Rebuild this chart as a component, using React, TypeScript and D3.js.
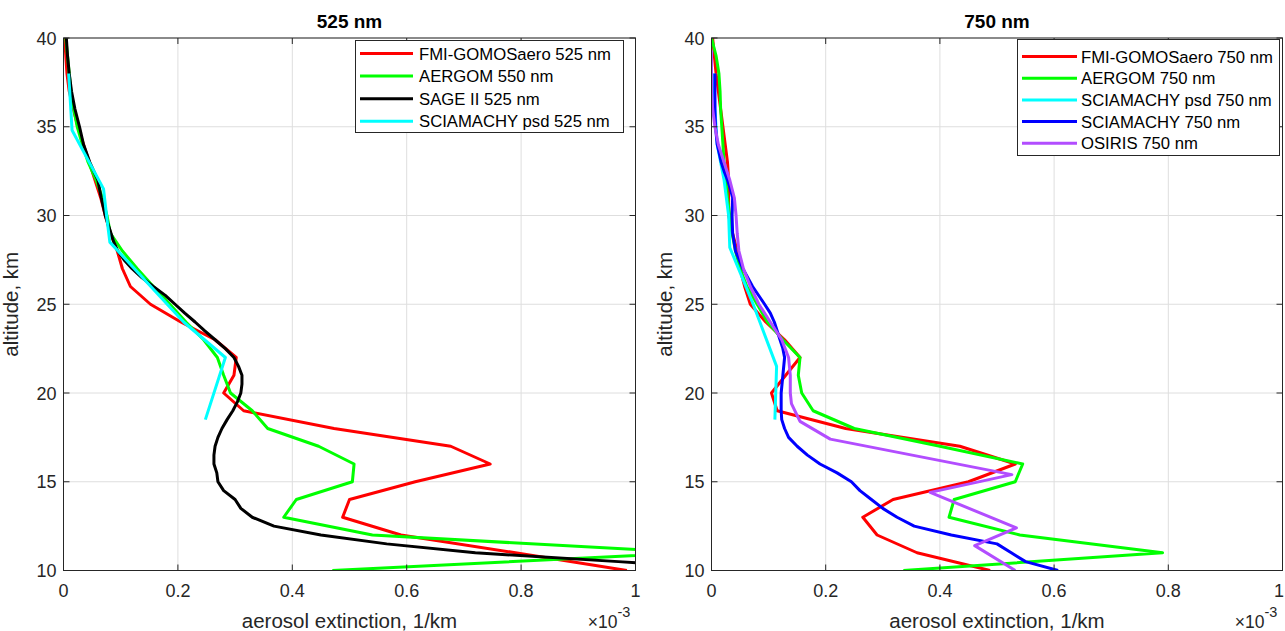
import React from 'react';
import * as d3 from 'd3';

// ---------- DATA (extinction in units of 1e-3 1/km, altitude in km) ----------
const xTicks = [0, 0.2, 0.4, 0.6, 0.8, 1];
const xTickLabels = ['0', '0.2', '0.4', '0.6', '0.8', '1'];
const yTicks = [10, 15, 20, 25, 30, 35, 40];

// Left panel: 525 nm
const fmi525Alt = [10, 11, 12, 13, 14, 15, 16, 17, 18, 19, 20, 21, 22, 23, 24, 25, 26, 27, 28, 29, 30, 31, 32, 33, 34, 35, 36, 37, 38, 39, 40];
const fmi525Ext = [0.985, 0.79, 0.59, 0.488, 0.5, 0.615, 0.746, 0.677, 0.473, 0.315, 0.28, 0.298, 0.302, 0.265, 0.205, 0.152, 0.117, 0.103, 0.094, 0.082, 0.073, 0.065, 0.055, 0.045, 0.035, 0.025, 0.017, 0.01, 0.006, 0.004, 0.002];

const aergom550Alt = [10, 11, 12, 13, 14, 15, 16, 17, 18, 19, 20, 21, 22, 23, 24, 25, 26, 27, 28, 29, 30, 31, 32, 33, 34, 35, 36, 37, 38, 39, 40];
const aergom550Ext = [0.47, 1.1, 0.54, 0.385, 0.407, 0.505, 0.508, 0.446, 0.357, 0.33, 0.292, 0.28, 0.269, 0.245, 0.214, 0.186, 0.157, 0.129, 0.103, 0.082, 0.076, 0.068, 0.057, 0.043, 0.033, 0.024, 0.018, 0.013, 0.01, 0.007, 0.004];

const sage525Alt = [10, 10.5, 11, 11.5, 12, 12.5, 13, 13.5, 14, 14.5, 15, 15.5, 16, 16.5, 17, 17.5, 18, 18.5, 19, 19.5, 20, 20.5, 21, 21.5, 22, 22.5, 23, 23.5, 24, 24.5, 25, 25.5, 26, 26.5, 27, 27.5, 28, 28.5, 29, 29.5, 30, 31, 32, 33, 34, 35, 36, 37, 38, 39, 40];
const sage525Ext = [1.2, 0.97, 0.72, 0.565, 0.45, 0.368, 0.33, 0.31, 0.3, 0.28, 0.27, 0.268, 0.263, 0.263, 0.265, 0.27, 0.277, 0.286, 0.296, 0.304, 0.31, 0.312, 0.312, 0.306, 0.298, 0.283, 0.265, 0.247, 0.23, 0.212, 0.195, 0.178, 0.157, 0.137, 0.12, 0.106, 0.095, 0.088, 0.083, 0.078, 0.073, 0.066, 0.06, 0.046, 0.035, 0.028, 0.02, 0.014, 0.01, 0.007, 0.005];

const sciaPsd525Alt = [18.5, 22, 24, 28.5, 29.8, 31.5, 34.8, 38];
const sciaPsd525Ext = [0.248, 0.283, 0.21, 0.081, 0.076, 0.07, 0.015, 0.009];

// Right panel: 750 nm
const fmi750Alt = [10, 11, 12, 13, 14, 15, 16, 17, 18, 19, 20, 21, 22, 23, 24, 25, 26, 27, 28, 29, 30, 31, 32, 33, 34, 35, 36, 37, 38, 39, 40];
const fmi750Ext = [0.488, 0.36, 0.29, 0.265, 0.318, 0.45, 0.532, 0.435, 0.235, 0.115, 0.105, 0.13, 0.155, 0.128, 0.095, 0.068, 0.058, 0.05, 0.045, 0.037, 0.03, 0.03, 0.03, 0.028, 0.024, 0.02, 0.016, 0.012, 0.008, 0.005, 0.002];

const aergom750Alt = [10, 11, 12, 13, 14, 15, 16, 17, 18, 19, 20, 21, 22, 23, 24, 25, 26, 27, 28, 29, 30, 31, 32, 33, 34, 35, 36, 37, 38, 39, 40];
const aergom750Ext = [0.336, 0.79, 0.54, 0.416, 0.425, 0.532, 0.545, 0.4, 0.25, 0.178, 0.158, 0.152, 0.155, 0.125, 0.098, 0.08, 0.062, 0.05, 0.042, 0.036, 0.032, 0.028, 0.025, 0.022, 0.02, 0.018, 0.016, 0.015, 0.013, 0.008, 0.0];

const sciaPsd750Alt = [18.5, 21.5, 25, 28.2, 30, 32, 34, 36, 38];
const sciaPsd750Ext = [0.111, 0.114, 0.073, 0.032, 0.03, 0.022, 0.01, 0.006, 0.004];

const scia750Alt = [10, 10.5, 11, 11.5, 12, 12.5, 13, 13.5, 14, 14.5, 15, 15.5, 16, 16.5, 17, 17.5, 18, 18.5, 19, 20, 21, 22, 22.5, 23, 24, 24.5, 25, 26, 27, 28, 29, 30, 31, 31.5, 32, 32.5, 33, 34, 35, 36, 37, 38];
const scia750Ext = [0.607, 0.55, 0.525, 0.5, 0.42, 0.355, 0.325, 0.3, 0.28, 0.26, 0.245, 0.22, 0.19, 0.168, 0.15, 0.135, 0.128, 0.123, 0.122, 0.122, 0.125, 0.128, 0.125, 0.12, 0.11, 0.103, 0.093, 0.072, 0.055, 0.042, 0.037, 0.036, 0.037, 0.033, 0.028, 0.022, 0.017, 0.01, 0.007, 0.006, 0.006, 0.006];

const osiris750Alt = [10, 11.4, 12.4, 14.4, 15.4, 17.4, 18.4, 19.4, 20, 21, 22, 23, 24, 25, 26, 27, 28, 29, 30, 31, 32, 33, 34, 35, 36, 37, 38, 39.3];
const osiris750Ext = [0.532, 0.461, 0.534, 0.383, 0.526, 0.208, 0.155, 0.14, 0.138, 0.138, 0.135, 0.123, 0.103, 0.083, 0.068, 0.056, 0.048, 0.045, 0.043, 0.04, 0.032, 0.022, 0.012, 0.006, 0.002, 0.0, 0.0, 0.0];

const leftTitle = '525 nm';
const rightTitle = '750 nm';
const xLabel = 'aerosol extinction, 1/km';
const yLabel = 'altitude, km';

const leftSeries = [
  { name: 'FMI-GOMOSaero 525 nm', color: '#ff0000', alt: fmi525Alt, ext: fmi525Ext },
  { name: 'AERGOM 550 nm', color: '#00ff00', alt: aergom550Alt, ext: aergom550Ext },
  { name: 'SAGE II 525 nm', color: '#000000', alt: sage525Alt, ext: sage525Ext },
  { name: 'SCIAMACHY psd 525 nm', color: '#00ffff', alt: sciaPsd525Alt, ext: sciaPsd525Ext },
];
const rightSeries = [
  { name: 'FMI-GOMOSaero 750 nm', color: '#ff0000', alt: fmi750Alt, ext: fmi750Ext },
  { name: 'AERGOM 750 nm', color: '#00ff00', alt: aergom750Alt, ext: aergom750Ext },
  { name: 'SCIAMACHY psd 750 nm', color: '#00ffff', alt: sciaPsd750Alt, ext: sciaPsd750Ext },
  { name: 'SCIAMACHY 750 nm', color: '#0000ff', alt: scia750Alt, ext: scia750Ext },
  { name: 'OSIRIS 750 nm', color: '#b24dff', alt: osiris750Alt, ext: osiris750Ext },
];

const FONT = "'Liberation Sans', Arial, Helvetica, sans-serif";
const AX = '#262626';

type Series = { name: string; color: string; alt: number[]; ext: number[] };

function Panel(props: {
  id: string; x0: number; x1: number; y0: number; y1: number; title: string;
  series: Series[]; legend: { x: number; y: number; w: number; h: number; lx0: number; lx1: number; tx: number; rowY: number; dy: number };
  yLabelX: number;
}) {
  const { id, x0, x1, y0, y1, title, series, legend, yLabelX } = props;
  const xs = d3.scaleLinear().domain([0, 1]).range([x0, x1]);
  const ys = d3.scaleLinear().domain([10, 40]).range([y1, y0]);
  const tk = 6;
  return (
    <g>
      <defs>
        <clipPath id={id}>
          <rect x={x0} y={y0} width={x1 - x0} height={y1 - y0} />
        </clipPath>
      </defs>
      <rect x={x0} y={y0} width={x1 - x0} height={y1 - y0} fill="#fff" />
      {/* grid */}
      {xTicks.map((t) => (
        <line key={'gx' + t} x1={xs(t)} x2={xs(t)} y1={y0} y2={y1} stroke="#dedede" strokeWidth={1} />
      ))}
      {yTicks.map((t) => (
        <line key={'gy' + t} x1={x0} x2={x1} y1={ys(t)} y2={ys(t)} stroke="#dedede" strokeWidth={1} />
      ))}
      {/* data */}
      <g clipPath={`url(#${id})`}>
        {series.map((s) => {
          const pts = s.alt.map((a, i) => [s.ext[i], a] as [number, number]);
          const path = d3.line<[number, number]>().x((d) => xs(d[0])).y((d) => ys(d[1]))(pts) || '';
          return <path key={s.name} d={path} fill="none" stroke={s.color} strokeWidth={3} strokeLinejoin="round" />;
        })}
      </g>
      {/* box */}
      <rect x={x0} y={y0} width={x1 - x0} height={y1 - y0} fill="none" stroke={AX} strokeWidth={1} />
      {/* ticks */}
      {xTicks.map((t) => (
        <g key={'tx' + t}>
          <line x1={xs(t)} x2={xs(t)} y1={y1} y2={y1 - tk} stroke={AX} />
          <line x1={xs(t)} x2={xs(t)} y1={y0} y2={y0 + tk} stroke={AX} />
        </g>
      ))}
      {yTicks.map((t) => (
        <g key={'ty' + t}>
          <line x1={x0} x2={x0 + tk} y1={ys(t)} y2={ys(t)} stroke={AX} />
          <line x1={x1} x2={x1 - tk} y1={ys(t)} y2={ys(t)} stroke={AX} />
        </g>
      ))}
      {/* tick labels */}
      {xTicks.map((t, i) => (
        <text key={'lx' + t} x={Math.min(xs(t), 1279)} y={y1 + 26} textAnchor="middle" fontFamily={FONT} fontSize={18} fill={AX}>{xTickLabels[i]}</text>
      ))}
      {yTicks.map((t) => (
        <text key={'ly' + t} x={x0 - 7} y={ys(t) + 6.5} textAnchor="end" fontFamily={FONT} fontSize={18} fill={AX}>{t}</text>
      ))}
      {/* exponent */}
      <text x={x1 - 18} y={y1 + 57} textAnchor="end" fontFamily={FONT} fontSize={17.5} fill={AX}>×10</text>
      <text x={x1 - 18} y={y1 + 46} textAnchor="start" fontFamily={FONT} fontSize={14.5} fill={AX}>-3</text>
      {/* labels */}
      <text x={(x0 + x1) / 2} y={y1 + 57} textAnchor="middle" fontFamily={FONT} fontSize={20.5} fill={AX}>{xLabel}</text>
      <text transform={`translate(${yLabelX},${(y0 + y1) / 2}) rotate(-90)`} textAnchor="middle" fontFamily={FONT} fontSize={20.5} fill={AX}>{yLabel}</text>
      <text x={(x0 + x1) / 2} y={y0 - 10} textAnchor="middle" fontFamily={FONT} fontSize={19} fontWeight="bold" fill="#000">{title}</text>
      {/* legend */}
      <rect x={legend.x} y={legend.y} width={legend.w} height={legend.h} fill="#fff" stroke={AX} strokeWidth={1} />
      {series.map((s, i) => (
        <g key={'lg' + s.name}>
          <line x1={legend.lx0} x2={legend.lx1} y1={legend.rowY + i * legend.dy} y2={legend.rowY + i * legend.dy} stroke={s.color} strokeWidth={3} />
          <text x={legend.tx} y={legend.rowY + i * legend.dy + 6} fontFamily={FONT} fontSize={16.7} fill="#000">{s.name}</text>
        </g>
      ))}
    </g>
  );
}

export default function App() {
  return (
    <svg width={1285} height={631} style={{ position: 'absolute', left: 0, top: 0, background: '#fff' }}>
      <rect x={0} y={0} width={1285} height={631} fill="#fff" />
      <Panel id="clipL" x0={63.5} x1={635.5} y0={38} y1={570.5} title={leftTitle} series={leftSeries}
        legend={{ x: 355.5, y: 40.5, w: 268, h: 92, lx0: 360, lx1: 413, tx: 419, rowY: 53.5, dy: 22.6 }} yLabelX={18} />
      <Panel id="clipR" x0={711.5} x1={1282.5} y0={38} y1={570.5} title={rightTitle} series={rightSeries}
        legend={{ x: 1017.5, y: 39.5, w: 262, h: 116, lx0: 1022, lx1: 1077, tx: 1081, rowY: 56.5, dy: 21.7 }} yLabelX={672} />
    </svg>
  );
}
